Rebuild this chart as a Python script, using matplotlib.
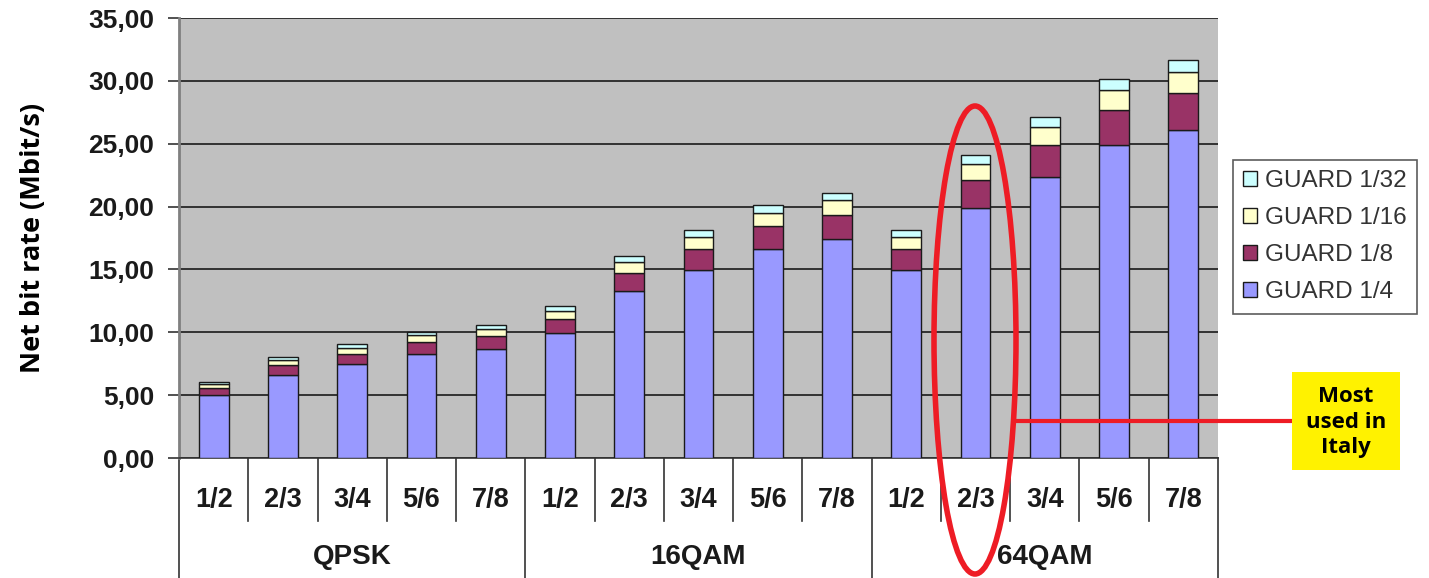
import matplotlib
matplotlib.use("Agg")
import matplotlib.pyplot as plt
from matplotlib.patches import Ellipse, Rectangle
from matplotlib.lines import Line2D
import numpy as np

# ---- data ----
code_rates = ["1/2", "2/3", "3/4", "5/6", "7/8"]
modulations = ["QPSK", "16QAM", "64QAM"]
# cumulative net bit rate (Mbit/s) for each guard interval
guard_1_4 = [4.98, 6.64, 7.46, 8.29, 8.71,
             9.95, 13.27, 14.93, 16.59, 17.42,
             14.93, 19.91, 22.39, 24.88, 26.13]
guard_1_8 = [5.53, 7.37, 8.29, 9.22, 9.68,
             11.06, 14.75, 16.59, 18.43, 19.35,
             16.59, 22.12, 24.88, 27.65, 29.03]
guard_1_16 = [5.85, 7.81, 8.78, 9.76, 10.25,
              11.71, 15.61, 17.56, 19.52, 20.49,
              17.56, 23.42, 26.35, 29.27, 30.74]
guard_1_32 = [6.03, 8.04, 9.05, 10.05, 10.56,
              12.06, 16.09, 18.10, 20.11, 21.11,
              18.10, 24.13, 27.14, 30.16, 31.67]
series_labels = ["GUARD 1/4", "GUARD 1/8", "GUARD 1/16", "GUARD 1/32"]
colors = ["#9999ff", "#993366", "#ffffcc", "#ccffff"]
yticks = [0, 5, 10, 15, 20, 25, 30, 35]
annotation = "Most\nused in\nItaly"

W, H = 1429, 578
fig = plt.figure(figsize=(W / 100, H / 100), dpi=100)
L, R, T, B = 179, 1218, 18, 458
ax = fig.add_axes([L / W, 1 - B / H, (R - L) / W, (B - T) / H])
ax.set_facecolor("#c0c0c0")

n = len(guard_1_4)
x = np.arange(n)
cum = [np.array(guard_1_4), np.array(guard_1_8), np.array(guard_1_16), np.array(guard_1_32)]
bottom = np.zeros(n)
handles = []
for i, (c, lab) in enumerate(zip(cum, series_labels)):
    h = ax.bar(x, c - bottom, bottom=bottom, width=0.43, color=colors[i],
               edgecolor="#1a1a1a", linewidth=1.0, label=lab, zorder=3)
    handles.append(h)
    bottom = c

ax.set_xlim(-0.5, n - 0.5)
ax.set_ylim(0, 35)
ax.set_yticks(yticks)
ax.set_yticklabels([f"{v:.2f}".replace(".", ",") for v in yticks],
                   fontfamily="Liberation Sans", fontweight="bold", fontsize=19, color="#1a1a1a")
ax.tick_params(axis="y", length=8, width=1.2, color="#333333", pad=10)
ax.yaxis.grid(True, color="#1a1a1a", linewidth=1.2, zorder=1)
ax.set_axisbelow(True)
ax.set_xticks([])
for s in ["top", "right"]:
    ax.spines[s].set_visible(False)
ax.spines["left"].set_color("#808080")
ax.spines["left"].set_linewidth(2)
ax.spines["bottom"].set_color("#333333")
ax.spines["bottom"].set_linewidth(1.2)

ax.set_ylabel("Net bit rate (Mbit/s)", fontfamily="Open Sans", fontweight="bold",
              fontsize=19.5, labelpad=30, color="#000000")

# category table below axes (axes y coords)
ah = B - T
def ay(py):
    return (B - py) / ah

for i, cr in enumerate(code_rates * len(modulations)):
    ax.text(i, ay(500), cr, ha="center", va="center", transform=ax.get_xaxis_transform(),
            fontfamily="Liberation Sans", fontweight="bold", fontsize=19.5, color="#1a1a1a")
for g, m in enumerate(modulations):
    ax.text(g * 5 + 2, ay(557), m, ha="center", va="center", transform=ax.get_xaxis_transform(),
            fontfamily="Liberation Sans", fontweight="bold", fontsize=20, color="#1a1a1a")
for k in range(n + 1):
    xe = k - 0.5
    if k % 5 == 0:
        y0 = ay(H)
    else:
        y0 = ay(521)
    ax.add_line(Line2D([xe, xe], [0, y0], transform=ax.get_xaxis_transform(),
                       color="#333333", linewidth=1.2, clip_on=False))

# legend
leg = fig.legend(handles[::-1], series_labels[::-1], loc="upper left",
                 bbox_to_anchor=(1233 / W, 1 - 160 / H), frameon=True, fancybox=False,
                 prop={"family": "Liberation Sans", "size": 17.5}, handlelength=0.55,
                 handleheight=0.55, handletextpad=0.35, labelspacing=0.62, borderpad=0.42,
                 borderaxespad=0)
leg.get_frame().set_edgecolor("#333333")
leg.get_frame().set_linewidth(1.2)
for t in leg.get_texts():
    t.set_color("#333333")

# red ellipse and annotation
red = "#ee1c25"
fig.patches.append(Ellipse((975 / W, 1 - 340 / H), 82 / W, 468 / H, transform=fig.transFigure,
                           fill=False, edgecolor=red, linewidth=4, zorder=10))
fig.lines.append(Line2D([1017 / W, 1292 / W], [1 - 421 / H, 1 - 421 / H], transform=fig.transFigure,
                        color=red, linewidth=3, zorder=10))
fig.patches.append(Rectangle((1292 / W, 1 - 470 / H), 108 / W, 98 / H, transform=fig.transFigure,
                             facecolor="#fff200", edgecolor="none", zorder=10))
fig.text(1346 / W, 1 - 422 / H, annotation, ha="center", va="center", fontfamily="Open Sans",
         fontweight="bold", fontsize=16, linespacing=1.3, zorder=11)

fig.savefig("out.png", dpi=100)
